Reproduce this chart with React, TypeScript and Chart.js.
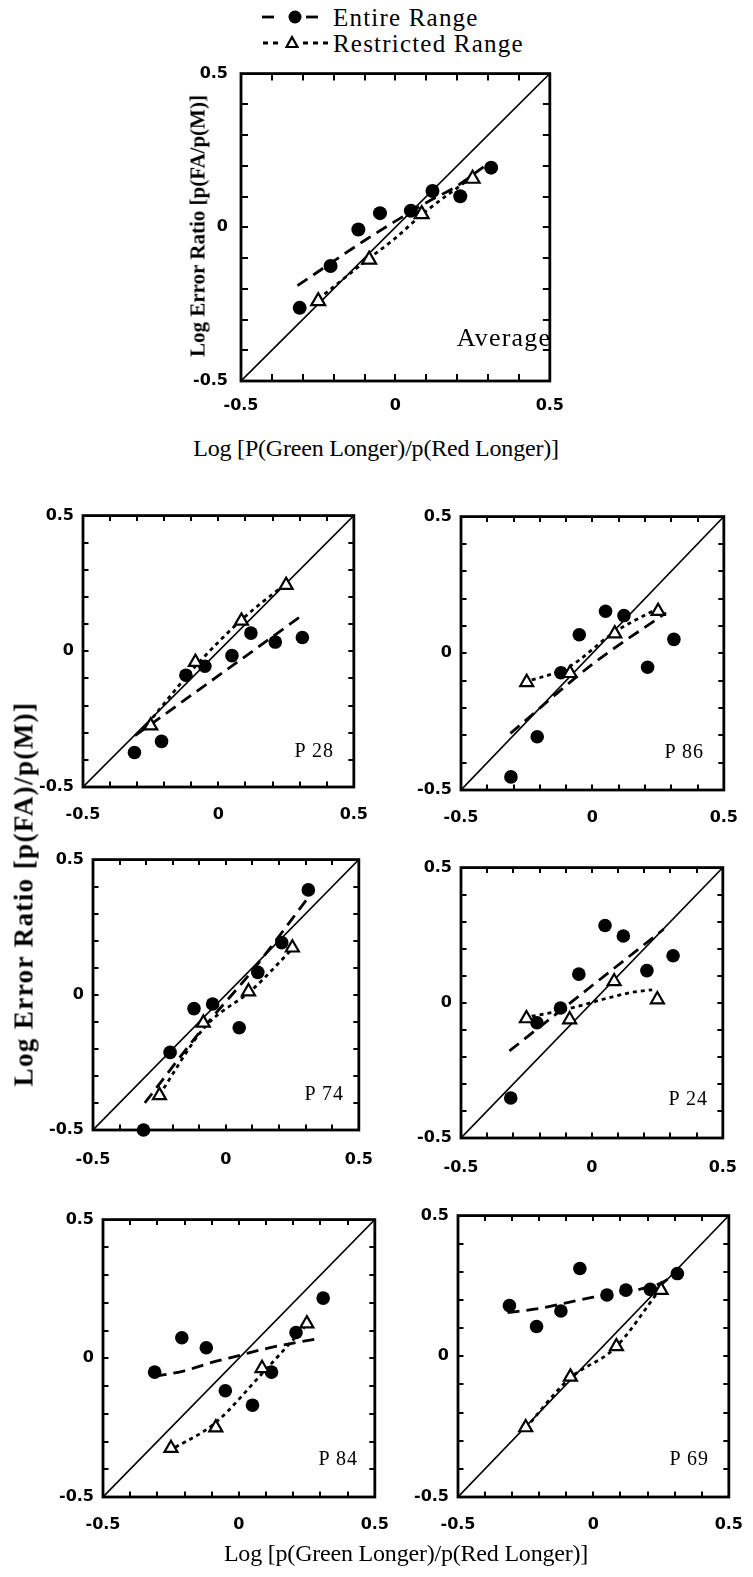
import React, { useEffect, useRef } from "react";
import { Chart, registerables } from "chart.js";
Chart.register(...registerables);

// ---------- DATA ----------
const X_ENTIRE = [-0.31, -0.21, -0.12, -0.05, 0.05, 0.12, 0.21, 0.31];
const X_RESTRICTED = [-0.25, -0.085, 0.085, 0.25];
const DIAGONAL = [-0.5, 0.5];
const TICK_LABELS = ["-0.5", "0", "0.5"];

const avgEntireY = [-0.262, -0.126, -0.007, 0.046, 0.054, 0.118, 0.101, 0.194];
const avgRestrictedY = [-0.24, -0.105, 0.043, 0.158];
const avgEntireFit: [number, number][] = [[-0.317, -0.19], [-0.2, -0.11], [-0.1, -0.043], [0, 0.02], [0.1, 0.08], [0.2, 0.135], [0.29, 0.2]];
const avgRestrictedFit: [number, number][] = [[-0.27, -0.25], [-0.09, -0.105], [0, -0.035], [0.09, 0.045], [0.25, 0.165]];

const p28EntireY = [-0.373, -0.332, -0.088, -0.055, -0.016, 0.067, 0.034, 0.051];
const p28RestrictedY = [-0.274, -0.04, 0.112, 0.244];
const p28EntireFit: [number, number][] = [[-0.308, -0.311], [0, -0.09], [0.3, 0.126]];
const p28RestrictedFit: [number, number][] = [[-0.28, -0.29], [-0.08, -0.05], [0.09, 0.12], [0.25, 0.25]];

const p86EntireY = [-0.452, -0.305, -0.071, 0.068, 0.154, 0.138, -0.051, 0.051];
const p86RestrictedY = [-0.106, -0.073, 0.072, 0.154];
const p86EntireFit: [number, number][] = [[-0.312, -0.293], [0, -0.04], [0.28, 0.148]];
const p86RestrictedFit: [number, number][] = [[-0.26, -0.106], [-0.09, -0.05], [0.08, 0.075], [0.25, 0.165]];

const p74EntireY = [-0.5, -0.213, -0.051, -0.034, -0.122, 0.083, 0.193, 0.388];
const p74RestrictedY = [-0.372, -0.104, 0.012, 0.174];
const p74EntireFit: [number, number][] = [[-0.305, -0.4], [-0.1, -0.14], [0.1, 0.09], [0.31, 0.36]];
const p74RestrictedFit: [number, number][] = [[-0.25, -0.37], [-0.08, -0.12], [0.1, 0.02], [0.25, 0.17]];

const p24EntireY = [-0.352, -0.074, -0.019, 0.106, 0.286, 0.247, 0.119, 0.174];
const p24RestrictedY = [-0.058, -0.062, 0.079, 0.012];
const p24EntireFit: [number, number][] = [[-0.315, -0.178], [0, 0.063], [0.274, 0.272]];
const p24RestrictedFit: [number, number][] = [[-0.26, -0.055], [-0.15, -0.035], [-0.05, -0.012], [0.05, 0.015], [0.15, 0.038], [0.23, 0.048]];

const p84EntireY = [-0.05, 0.074, 0.038, -0.117, -0.169, -0.05, 0.093, 0.217];
const p84RestrictedY = [-0.324, -0.25, -0.036, 0.125];
const p84EntireFit: [number, number][] = [[-0.31, -0.065], [-0.2, -0.045], [-0.1, -0.015], [0, 0.01], [0.1, 0.035], [0.2, 0.055], [0.3, 0.072]];
const p84RestrictedFit: [number, number][] = [[-0.26, -0.335], [-0.09, -0.235], [0.09, -0.05], [0.24, 0.11]];

const p69EntireY = [0.18, 0.106, 0.161, 0.312, 0.218, 0.235, 0.238, 0.294];
const p69RestrictedY = [-0.253, -0.073, 0.035, 0.235];
const p69EntireFit: [number, number][] = [[-0.317, 0.155], [-0.2, 0.17], [-0.1, 0.19], [0, 0.21], [0.1, 0.225], [0.2, 0.245], [0.25, 0.26], [0.3, 0.29]];
const p69RestrictedFit: [number, number][] = [[-0.25, -0.255], [-0.09, -0.08], [0.08, 0.03], [0.24, 0.23]];

// ---------- LAYOUT ----------
const AXW = 70;
const AXH = 48;
const PT = 16;
const PR = 24;

type Spec = {
  L: number; T: number; R: number; B: number;
  entireY: number[]; restrY: number[];
  entireFit: [number, number][]; restrFit: [number, number][];
  tickLen: number; r: number; tri: number; xPad: number; yPad: number;
  label: string; labelRight: number; labelBase: number; labelSize: number; labelLs: number;
};

const panels: Spec[] = [
  { L: 241, T: 67, R: 555, B: 381, entireY: avgEntireY, restrY: avgRestrictedY, entireFit: avgEntireFit, restrFit: avgRestrictedFit, tickLen: 7, r: 7, tri: 8, xPad: 15, yPad: 13, label: "Average", labelRight: 550, labelBase: 347, labelSize: 26, labelLs: 1.2 },
  { L: 83, T: 513, R: 362, B: 787, entireY: p28EntireY, restrY: p28RestrictedY, entireFit: p28EntireFit, restrFit: p28RestrictedFit, tickLen: 5.5, r: 6.8, tri: 7.5, xPad: 18, yPad: 9, label: "P 28", labelRight: 333, labelBase: 757, labelSize: 20, labelLs: 1 },
  { L: 461, T: 514, R: 732, B: 790, entireY: p86EntireY, restrY: p86RestrictedY, entireFit: p86EntireFit, restrFit: p86RestrictedFit, tickLen: 5.5, r: 6.8, tri: 7.5, xPad: 18, yPad: 9, label: "P 86", labelRight: 703, labelBase: 758, labelSize: 20, labelLs: 1 },
  { L: 93, T: 857, R: 369, B: 1130, entireY: p74EntireY, restrY: p74RestrictedY, entireFit: p74EntireFit, restrFit: p74RestrictedFit, tickLen: 5.5, r: 6.8, tri: 7.5, xPad: 20, yPad: 9, label: "P 74", labelRight: 343, labelBase: 1100, labelSize: 20, labelLs: 1 },
  { L: 461, T: 865, R: 733, B: 1138, entireY: p24EntireY, restrY: p24RestrictedY, entireFit: p24EntireFit, restrFit: p24RestrictedFit, tickLen: 5.5, r: 6.8, tri: 7.5, xPad: 20, yPad: 9, label: "P 24", labelRight: 707, labelBase: 1105, labelSize: 20, labelLs: 1 },
  { L: 103, T: 1217, R: 383, B: 1497, entireY: p84EntireY, restrY: p84RestrictedY, entireFit: p84EntireFit, restrFit: p84RestrictedFit, tickLen: 5.5, r: 6.8, tri: 7.5, xPad: 18, yPad: 9, label: "P 84", labelRight: 357, labelBase: 1465, labelSize: 20, labelLs: 1 },
  { L: 458, T: 1213, R: 737, B: 1497, entireY: p69EntireY, restrY: p69RestrictedY, entireFit: p69EntireFit, restrFit: p69RestrictedFit, tickLen: 5.5, r: 6.8, tri: 7.5, xPad: 18, yPad: 9, label: "P 69", labelRight: 708, labelBase: 1465, labelSize: 20, labelLs: 1 },
];

const fmt = (v: number | string) => {
  const n = Math.round(Number(v) * 10) / 10;
  if (n === -0.5) return TICK_LABELS[0];
  if (n === 0) return TICK_LABELS[1];
  if (n === 0.5) return TICK_LABELS[2];
  return "";
};

const framePlugin = {
  id: "frame",
  beforeDatasetsDraw(chart: any, _args: any, opts: any) {
    const { ctx, chartArea } = chart;
    const { left, right, top, bottom } = chartArea;
    const xs = chart.scales.x;
    const ys = chart.scales.y;
    const tl = opts.tickLen || 6;
    ctx.save();
    ctx.strokeStyle = "#000";
    ctx.lineWidth = 2;
    ctx.beginPath();
    xs.ticks.forEach((t: any) => {
      const n = Math.round(t.value * 10) / 10;
      if (n <= -0.5 || n >= 0.5) return;
      const px = Math.round(xs.getPixelForValue(t.value));
      ctx.moveTo(px, bottom); ctx.lineTo(px, bottom - tl);
      ctx.moveTo(px, top); ctx.lineTo(px, top + tl);
    });
    ys.ticks.forEach((t: any) => {
      const n = Math.round(t.value * 10) / 10;
      if (n <= -0.5 || n >= 0.5) return;
      const py = Math.round(ys.getPixelForValue(t.value));
      ctx.moveTo(left, py); ctx.lineTo(left + tl, py);
      ctx.moveTo(right, py); ctx.lineTo(right - tl, py);
    });
    ctx.stroke();
    ctx.lineWidth = 2.8;
    ctx.strokeRect(left, top, right - left, bottom - top);
    ctx.restore();
  },
};

function Panel({ s }: { s: Spec }) {
  const ref = useRef<HTMLCanvasElement>(null);
  const w = s.R - s.L + AXW + PR;
  const h = s.B - s.T + PT + AXH;
  useEffect(() => {
    const c = ref.current!;
    const tickFont = { family: "'DejaVu Sans', sans-serif", size: 16, weight: "bold" as const };
    const chart = new Chart(c, {
      type: "scatter",
      data: {
        datasets: [
          {
            data: X_RESTRICTED.map((x, i) => ({ x, y: s.restrY[i] })),
            pointStyle: "triangle", pointRadius: s.tri, pointBackgroundColor: "#fff",
            pointBorderColor: "#000", pointBorderWidth: 2.2, showLine: false, order: 0, clip: false,
          } as any,
          {
            data: X_ENTIRE.map((x, i) => ({ x, y: s.entireY[i] })),
            pointStyle: "circle", pointRadius: s.r, pointBackgroundColor: "#000",
            pointBorderColor: "#000", pointBorderWidth: 0, showLine: false, order: 0, clip: false,
          } as any,
          {
            data: s.entireFit.map(([x, y]) => ({ x, y })),
            showLine: true, borderColor: "#000", borderWidth: 2.8, borderDash: [12, 7],
            pointRadius: 0, cubicInterpolationMode: "monotone", order: 1, clip: false,
          } as any,
          {
            data: s.restrFit.map(([x, y]) => ({ x, y })),
            showLine: true, borderColor: "#000", borderWidth: 2.8, borderDash: [4, 4],
            pointRadius: 0, cubicInterpolationMode: "monotone", order: 1, clip: false,
          } as any,
          {
            data: DIAGONAL.map((v) => ({ x: v, y: v })),
            showLine: true, borderColor: "#000", borderWidth: 1.6, pointRadius: 0, order: 2,
          } as any,
        ],
      },
      options: {
        animation: false,
        responsive: false,
        maintainAspectRatio: false,
        devicePixelRatio: 1,
        events: [],
        layout: { padding: { left: 0, top: PT, right: PR, bottom: 0 } },
        plugins: {
          legend: { display: false },
          tooltip: { enabled: false },
          frame: { tickLen: s.tickLen },
        } as any,
        scales: {
          x: {
            type: "linear", min: -0.5, max: 0.5,
            afterFit: (sc: any) => { sc.height = AXH; },
            border: { display: false },
            grid: { display: false, drawTicks: false, tickLength: 0 },
            ticks: { stepSize: 0.1, autoSkip: false, maxRotation: 0, padding: s.xPad, color: "#000", font: tickFont, callback: fmt },
          },
          y: {
            type: "linear", min: -0.5, max: 0.5,
            afterFit: (sc: any) => { sc.width = AXW; },
            border: { display: false },
            grid: { display: false, drawTicks: false, tickLength: 0 },
            ticks: { stepSize: 0.1, autoSkip: false, padding: s.yPad, color: "#000", font: tickFont, callback: fmt },
          },
        } as any,
      },
      plugins: [framePlugin],
    });
    return () => chart.destroy();
  }, []);
  return (
    <canvas
      ref={ref}
      width={w}
      height={h}
      style={{ position: "absolute", left: s.L - AXW, top: s.T - PT, width: w, height: h }}
    />
  );
}

const SERIF = "'Liberation Serif', 'Times New Roman', serif";

function Txt(props: {
  x: number; y: number; text: string; size: number; weight?: number; ls?: number;
  align?: "center" | "right" | "left"; rotate?: boolean;
}) {
  const { x, y, text, size, weight = 400, ls = 0, align = "center", rotate = false } = props;
  let tf = "translate(-50%,-50%)";
  if (align === "right") tf = "translate(-100%,-50%)";
  if (align === "left") tf = "translate(0,-50%)";
  if (rotate) tf = "translate(-50%,-50%) rotate(-90deg)";
  return (
    <div
      style={{
        position: "absolute", left: x, top: y, transform: tf, whiteSpace: "nowrap",
        fontFamily: SERIF, fontSize: size, fontWeight: weight, letterSpacing: ls,
        lineHeight: 1, color: "#000",
      }}
    >
      {text}
    </div>
  );
}

export default function App() {
  return (
    <div
      style={{
        position: "absolute", left: 0, top: 0, width: 753, height: 1577,
        overflow: "hidden", background: "#fff",
      }}
    >
      {/* Legend */}
      <svg width={753} height={60} style={{ position: "absolute", left: 0, top: 0 }}>
        <line x1={262} y1={17} x2={274} y2={17} stroke="#000" strokeWidth={2.8} />
        <circle cx={295} cy={17} r={6.5} fill="#000" />
        <line x1={306} y1={17} x2={318} y2={17} stroke="#000" strokeWidth={2.8} />
        <line x1={263} y1={43} x2={282} y2={43} stroke="#000" strokeWidth={2.8} strokeDasharray="5 5" />
        <polygon points="292,37 297.5,47 286.5,47" fill="#fff" stroke="#000" strokeWidth={2.2} />
        <line x1={303} y1={43} x2={329} y2={43} stroke="#000" strokeWidth={2.8} strokeDasharray="5 5" />
      </svg>
      <Txt x={333} y={17} text="Entire Range" size={25} ls={1.2} align="left" />
      <Txt x={333} y={43} text="Restricted Range" size={25} ls={1.2} align="left" />

      {panels.map((s, i) => (
        <Panel key={i} s={s} />
      ))}
      {panels.map((s, i) => (
        <Txt key={"l" + i} x={s.labelRight + s.labelLs} y={s.labelBase - s.labelSize * 0.33} text={s.label} size={s.labelSize} ls={s.labelLs} align="right" />
      ))}

      <Txt x={198} y={226} text="Log Error Ratio [p(FA/p(M)]" size={21} weight={700} rotate />
      <Txt x={376} y={448} text="Log [P(Green Longer)/p(Red Longer)]" size={24} ls={-0.2} />
      <Txt x={24} y={894} text="Log Error Ratio [p(FA)/p(M)]" size={27} weight={700} ls={1.4} rotate />
      <Txt x={406} y={1553} text="Log [p(Green Longer)/p(Red Longer)]" size={24} ls={-0.2} />
    </div>
  );
}
